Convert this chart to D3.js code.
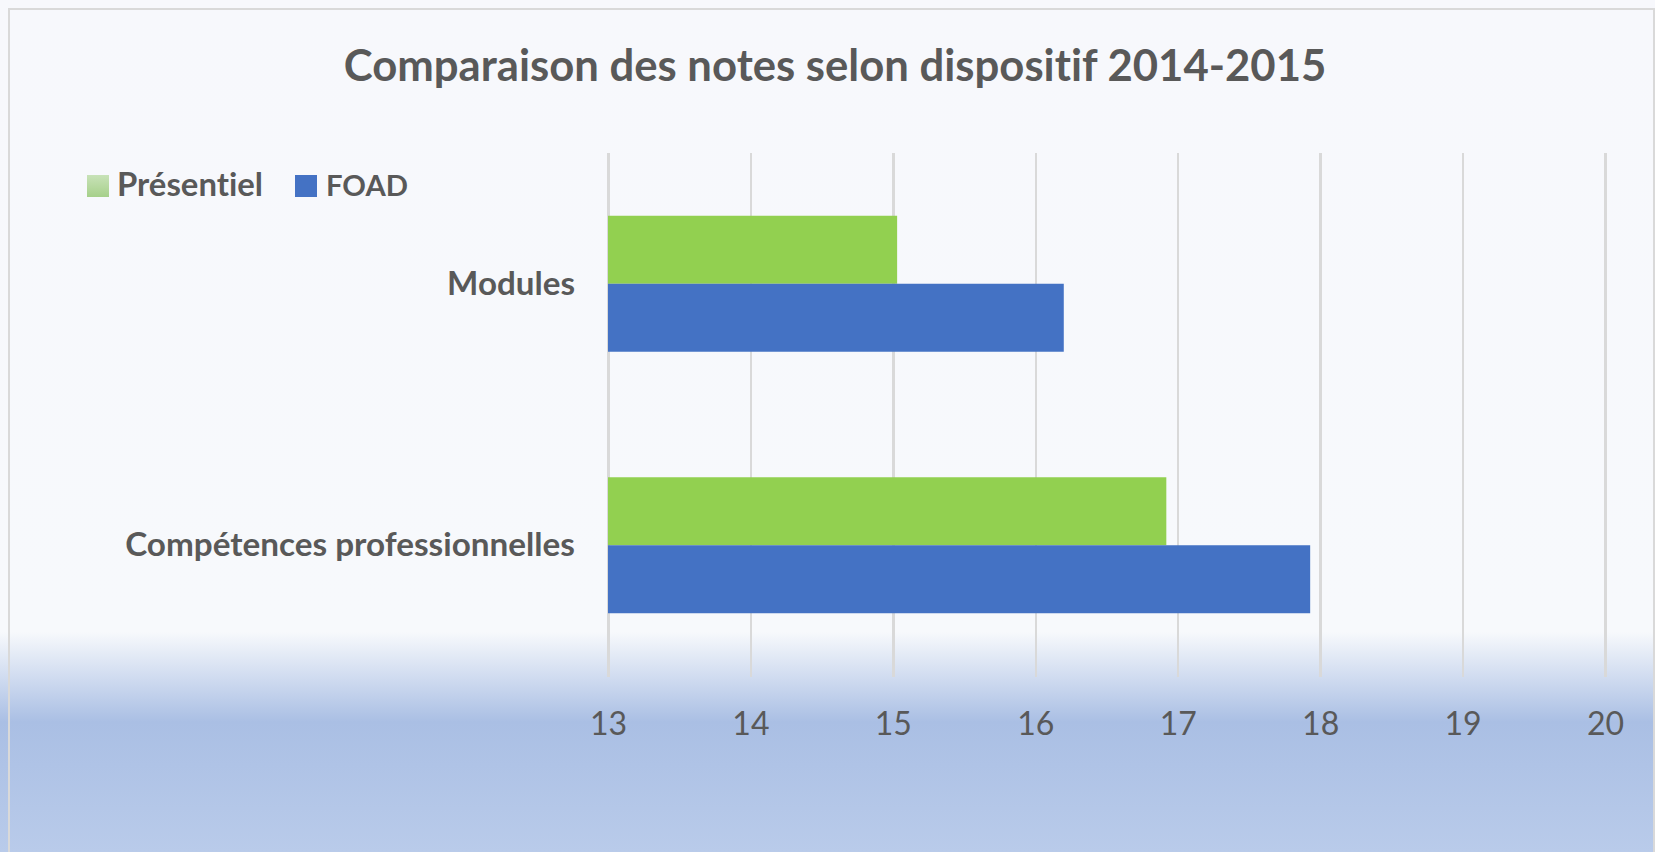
<!DOCTYPE html>
<meta charset="utf-8">
<title>Comparaison des notes</title>
<style>
body { margin: 0; background: #F7F8FC; }
text { font-family: Lato, "Open Sans", sans-serif; fill: #595959; font-variant-ligatures: none; font-feature-settings: "liga" 0; }
.grid line { stroke: #D9D9D9; stroke-width: 2.5; shape-rendering: crispEdges; }
</style>
<body>
<script src="https://d3js.org/d3.v7.min.js"></script>
<script>

// data
var categories = ["Modules", "Compétences professionnelles"];
var seriesNames = ["Présentiel", "FOAD"];
var presentiel = [15.03, 16.92];
var foad = [16.20, 17.93];
var xTicks = [13, 14, 15, 16, 17, 18, 19, 20];
var title = "Comparaison des notes selon dispositif 2014-2015";

var width = 1655, height = 852;
var colors = { "Présentiel": "#92D050", "FOAD": "#4472C4" };

var rows = categories.map(function(c, i) {
    return { cat: c, values: [
        { name: "Présentiel", value: presentiel[i] },
        { name: "FOAD", value: foad[i] }
    ]};
});

var svg = d3.select("body").append("svg")
    .attr("width", width)
    .attr("height", height);

// background gradient (bottom band)
var defs = svg.append("defs");
var bg = defs.append("linearGradient")
    .attr("id", "bg")
    .attr("gradientUnits", "userSpaceOnUse")
    .attr("x1", 0).attr("y1", 0).attr("x2", 0).attr("y2", height);
[[0, "#F7F8FC"], [632, "#F7F9FC"], [722, "#AABFE4"], [852, "#B9CBEA"]].forEach(function(s) {
    bg.append("stop").attr("offset", s[0] / height).attr("stop-color", s[1]);
});
var lg = defs.append("linearGradient")
    .attr("id", "legendGreen")
    .attr("x1", 0).attr("y1", 0).attr("x2", 0).attr("y2", 1);
lg.append("stop").attr("offset", 0).attr("stop-color", "#C8E2B8");
lg.append("stop").attr("offset", 1).attr("stop-color", "#A6D08A");

svg.append("rect")
    .attr("width", width).attr("height", height)
    .attr("fill", "url(#bg)");

// chart border
svg.append("rect")
    .attr("x", 9).attr("y", 9)
    .attr("width", 1645).attr("height", 900)
    .attr("fill", "none")
    .attr("stroke", "#D9D9D9")
    .attr("stroke-width", 2);

// scales
var x = d3.scaleLinear().domain([13, 20]).range([608, 1605]);
var y = d3.scaleBand().domain(categories).range([153, 676]).padding(0);
var ySub = d3.scaleBand().domain(seriesNames).range([0, y.bandwidth()])
    .paddingInner(0).paddingOuter(0.923);

// gridlines
svg.append("g")
    .attr("class", "grid")
    .attr("transform", "translate(0,677)")
    .call(d3.axisBottom(x).tickValues(xTicks).tickSize(-524).tickFormat(""))
    .call(function(g) { g.select(".domain").remove(); });

// bars
var groups = svg.selectAll(".cat")
    .data(rows)
    .enter().append("g")
    .attr("class", "cat")
    .attr("transform", function(d) { return "translate(0," + y(d.cat) + ")"; });

groups.selectAll("rect")
    .data(function(d) { return d.values; })
    .enter().append("rect")
    .attr("x", x(13))
    .attr("y", function(d) { return ySub(d.name); })
    .attr("width", function(d) { return x(d.value) - x(13); })
    .attr("height", ySub.bandwidth())
    .attr("fill", function(d) { return colors[d.name]; });

// fit text to a target width
function fit(sel, target) {
    var fs = parseFloat(sel.style("font-size"));
    var w = sel.node().getComputedTextLength();
    sel.style("font-size", (fs * target / w) + "px");
}

// x axis labels
var xAxis = svg.append("g")
    .attr("transform", "translate(0,677)")
    .call(d3.axisBottom(x).tickValues(xTicks).tickFormat(d3.format("d")).tickSize(0).tickPadding(0));
xAxis.select(".domain").remove();
xAxis.selectAll("text")
    .attr("y", 58)
    .attr("dy", null)
    .style("font-family", null)
    .style("font-size", "32px")
    .attr("font-size", null)
    .attr("fill", "#595959");

// category labels
svg.selectAll(".catLabel")
    .data(categories)
    .enter().append("text")
    .attr("class", "catLabel")
    .attr("x", 575)
    .attr("y", function(d) { return y(d) + y.bandwidth() / 2 + 11; })
    .attr("text-anchor", "end")
    .style("font-weight", "bold")
    .style("font-size", "30px")
    .text(function(d) { return d; })
    .each(function(d) {
        if (d === "Compétences professionnelles") fit(d3.select(this), 450);
        else fit(d3.select(this), 128);
    });

// title
var t = svg.append("text")
    .attr("x", 835)
    .attr("y", 81)
    .attr("text-anchor", "middle")
    .style("font-weight", "bold")
    .style("font-size", "44px")
    .text(title);
fit(t, 983);

// legend
var legendData = [
    { name: "Présentiel", fill: "url(#legendGreen)", x: 87, tx: 117, w: 146 },
    { name: "FOAD", fill: colors["FOAD"], x: 295, tx: 326, w: 82 }
];
var legend = svg.selectAll(".legend")
    .data(legendData)
    .enter().append("g")
    .attr("class", "legend");
legend.append("rect")
    .attr("x", function(d) { return d.x; })
    .attr("y", 175)
    .attr("width", 22).attr("height", 22)
    .attr("fill", function(d) { return d.fill; });
legend.append("text")
    .attr("x", function(d) { return d.tx; })
    .attr("y", 196)
    .style("font-weight", "bold")
    .style("font-size", "30px")
    .text(function(d) { return d.name; })
    .each(function(d) { fit(d3.select(this), d.w); });

</script>
</body>
